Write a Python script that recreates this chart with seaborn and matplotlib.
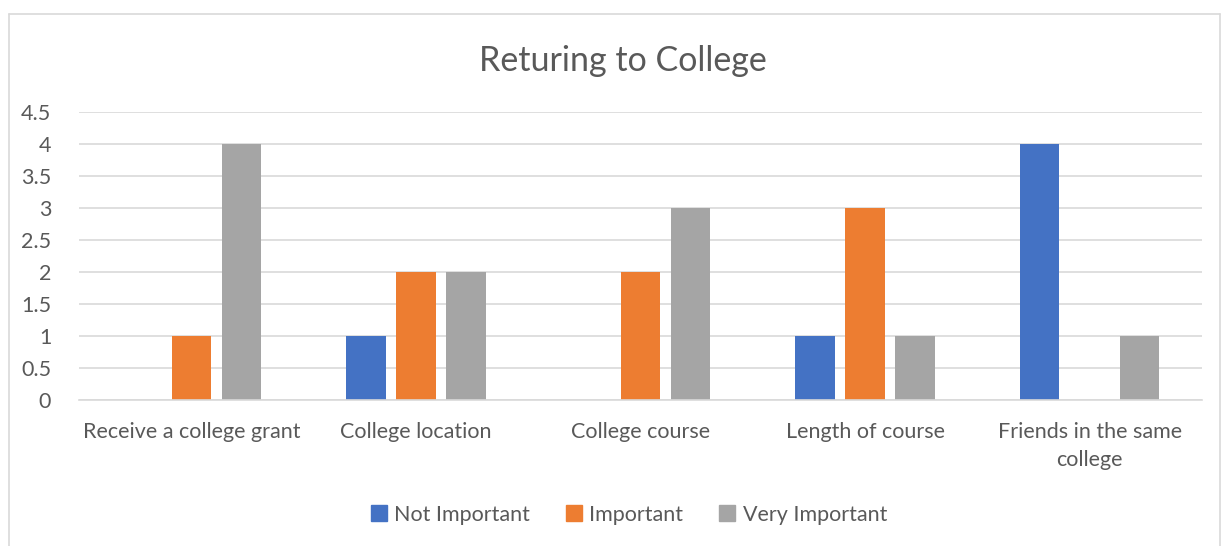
import pandas as pd
import matplotlib
matplotlib.use("Agg")
import matplotlib.pyplot as plt
import seaborn as sns
from matplotlib.lines import Line2D

# data
categories = ["Receive a college grant", "College location", "College course",
              "Length of course", "Friends in the same\ncollege"]
not_important = [0, 1, 0, 1, 4]
important = [1, 2, 2, 3, 0]
very_important = [4, 2, 3, 1, 1]
series = ["Not Important", "Important", "Very Important"]
colors = ["#4472C4", "#ED7D31", "#A5A5A5"]

rows = []
for i, cat in enumerate(categories):
    for name, vals in zip(series, [not_important, important, very_important]):
        rows.append({"category": cat, "series": name, "value": vals[i]})
df = pd.DataFrame(rows)

sns.set_style("white")
plt.rcParams["font.family"] = ["Lato", "DejaVu Sans"]
text_col = "#595959"

fig = plt.figure(figsize=(12.27, 5.46), dpi=100)
ax = fig.add_axes([0.0644, 0.2674, 0.9152, 0.5276])

sns.barplot(data=df, x="category", y="value", hue="series", hue_order=series,
            palette=colors, width=0.668, gap=0.21, ax=ax, legend=True,
            saturation=1, linewidth=0)

ax.set_ylim(0, 4.5)
ax.set_xlim(-0.5, 4.5)
ax.set_yticks([0, 0.5, 1, 1.5, 2, 2.5, 3, 3.5, 4, 4.5])
ax.set_yticklabels(["0", "0.5", "1", "1.5", "2", "2.5", "3", "3.5", "4", "4.5"])
ax.yaxis.grid(True, color="#D9D9D9", linewidth=1.2)
ax.set_axisbelow(True)
for s in ["top", "right", "left"]:
    ax.spines[s].set_visible(False)
ax.spines["bottom"].set_color("#D9D9D9")
ax.spines["bottom"].set_linewidth(1.2)
ax.tick_params(axis="both", length=0, labelsize=15.5, colors=text_col)
ax.tick_params(axis="x", pad=16)
ax.tick_params(axis="y", pad=20)
for lbl in ax.get_xticklabels():
    lbl.set_linespacing(1.5)
ax.set_xlabel("")
ax.set_ylabel("")

fig.suptitle("Returing to College", x=0.508, y=0.917, fontsize=24.5, color=text_col)

ax.legend_.remove()
handles = [Line2D([0], [0], marker="s", linestyle="", markersize=11,
                  markerfacecolor=c, markeredgecolor=c) for c in colors]
fig.legend(handles, series, loc="center", bbox_to_anchor=(0.512, 0.057), ncol=3,
           frameon=False, fontsize=15.5, labelcolor=text_col, handletextpad=0.25,
           columnspacing=1.6, handlelength=0.9)

# chart border
border = dict(color="#D9D9D9", linewidth=1.2, transform=fig.transFigure)
fig.add_artist(Line2D([0.0073, 0.0073], [0.0, 0.975], **border))
fig.add_artist(Line2D([0.0073, 0.994], [0.975, 0.975], **border))
fig.add_artist(Line2D([0.994, 0.994], [0.0, 0.975], **border))

fig.savefig("out.png", dpi=100)
